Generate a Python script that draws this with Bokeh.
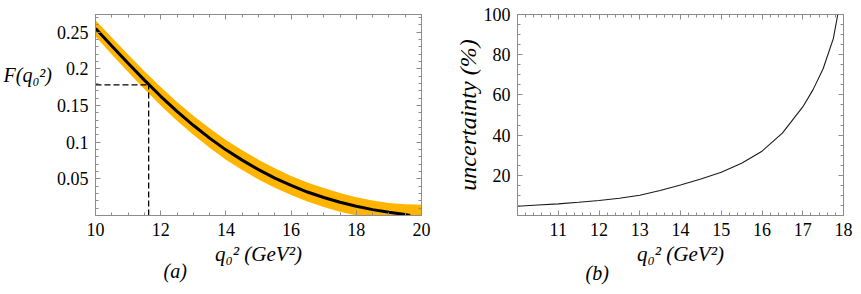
import numpy as np
from bokeh.plotting import figure
from bokeh.models import Range1d, LinearAxis, FixedTicker, Title, CustomJSTickFormatter
from bokeh.layouts import row
from bokeh.embed import file_html
from bokeh.resources import INLINE

# ---------------- data ----------------
# panel (a): form factor F(q0^2) with its uncertainty band
band_q2 = [10, 10.5, 11, 11.5, 12, 12.5, 13, 13.5, 14, 14.5, 15, 15.5, 16, 16.5,
           17, 17.5, 18, 18.5, 19, 19.5, 20]
band_upper = [0.266, 0.2425, 0.2195, 0.1967, 0.175, 0.1548, 0.136, 0.1188, 0.103, 0.089,
              0.076, 0.0643, 0.054, 0.045, 0.0375, 0.0308, 0.025, 0.0205, 0.017, 0.0152, 0.0145]
band_lower = [0.244, 0.2195, 0.1955, 0.1723, 0.150, 0.1292, 0.110, 0.0922, 0.076, 0.062,
              0.049, 0.0377, 0.028, 0.019, 0.0115, 0.0052, 0.0, 0.0, 0.0, 0.0, 0.0]
central_q2 = [10, 10.5, 11, 11.5, 12, 12.5, 13, 13.5, 14, 14.5, 15, 15.5, 16, 16.5,
              17, 17.5, 18, 18.5, 19, 19.5, 19.65]
central_F = [0.255, 0.231, 0.2075, 0.1845, 0.1625, 0.142, 0.123, 0.1055, 0.0895, 0.0755,
             0.0625, 0.051, 0.041, 0.032, 0.0245, 0.018, 0.0125, 0.008, 0.0043, 0.0013, 0.0]
ref_q2 = 11.63
ref_F = 0.178

# panel (b): relative uncertainty in %
unc_q2 = [10, 10.5, 11, 11.5, 12, 12.5, 13, 13.5, 14, 14.5, 15, 15.5, 16, 16.25, 16.5,
          17, 17.25, 17.5, 17.75, 17.86]
unc_pct = [4.6, 5.2, 5.8, 6.6, 7.5, 8.6, 10.1, 12.4, 15.2, 18.2, 21.5, 26.0, 32.0, 36.5, 41.0,
           54.0, 62.5, 73.0, 88.0, 100.0]

a_xticks = [10, 12, 14, 16, 18, 20]
a_yticks = [0.05, 0.1, 0.15, 0.2, 0.25]
b_xticks = [11, 12, 13, 14, 15, 16, 17, 18]
b_yticks = [20, 40, 60, 80, 100]

# ---------------- styling ----------------
SERIF = "'Liberation Serif', 'Times New Roman', serif"
FRAME = "#8c8c8c"
ORANGE = "#FFB400"
TICK_SIZE = "18px"
LABEL_SIZE = "21px"
H = 292


def style_axis(ax, ticks, minor, labels=True):
    ax.ticker = FixedTicker(ticks=list(ticks), minor_ticks=list(minor))
    ax.axis_line_color = FRAME
    ax.major_tick_line_color = FRAME
    ax.minor_tick_line_color = FRAME
    ax.major_tick_in = 5
    ax.major_tick_out = 0
    ax.minor_tick_in = 3
    ax.minor_tick_out = 0
    ax.major_label_text_font = SERIF
    ax.major_label_text_color = "black"
    ax.axis_label_text_font = SERIF
    ax.axis_label_text_font_style = "italic"
    ax.axis_label_text_font_size = LABEL_SIZE
    ax.axis_label_text_color = "black"
    if labels:
        ax.major_label_text_font_size = TICK_SIZE
        ax.major_label_standoff = 7
        ax.major_label_overrides = {t: f"{t:g}" for t in ticks}
    else:
        ax.formatter = CustomJSTickFormatter(code="return ''")
        ax.major_label_text_font_size = "0px"
        ax.major_label_standoff = 0


def make_fig(width, xr, yr, bl, br):
    p = figure(width=width, height=H, x_range=Range1d(*xr), y_range=Range1d(*yr),
               output_backend="svg", toolbar_location=None,
               min_border_left=bl, min_border_right=br, min_border_top=14,
               min_border_bottom=H - 215)
    p.grid.visible = False
    p.outline_line_color = FRAME
    p.background_fill_color = "white"
    p.border_fill_color = "white"
    return p


def panel_tag(p, text, offset, standoff):
    p.add_layout(Title(text=text, align="left", offset=offset, standoff=standoff,
                       text_font=SERIF, text_font_style="italic", text_font_size="20px",
                       text_color="black"), "below")


# ---------------- panel (a) ----------------
p1 = make_fig(438, (10, 20), (0, 0.274), 95, 17)
p1.varea(x=band_q2, y1=band_lower, y2=band_upper, color=ORANGE)
p1.line(central_q2, central_F, line_color="black", line_width=3)
p1.line([10, ref_q2], [ref_F, ref_F], line_color="black", line_width=1.3, line_dash="6 3")
p1.line([ref_q2, ref_q2], [0, ref_F], line_color="black", line_width=1.3, line_dash="6 3")

style_axis(p1.xaxis[0], a_xticks, np.arange(10, 20.01, 0.5))
style_axis(p1.yaxis[0], a_yticks, np.arange(0, 0.2741, 0.01))
p1.xaxis[0].axis_label = "q₀² (GeV²)"
p1.xaxis[0].axis_label_standoff = 3
p1.yaxis[0].axis_label = "F(q₀²)\n\n\n"
p1.yaxis[0].axis_label_orientation = "horizontal"
p1.yaxis[0].axis_label_text_font_size = "20px"
p1.yaxis[0].axis_label_standoff = 2
top1 = LinearAxis()
right1 = LinearAxis()
style_axis(top1, a_xticks, np.arange(10, 20.01, 0.5), labels=False)
style_axis(right1, a_yticks, np.arange(0, 0.2741, 0.01), labels=False)
p1.add_layout(top1, "above")
p1.add_layout(right1, "right")
panel_tag(p1, "(a)", 68, -21)

# ---------------- panel (b) ----------------
p2 = make_fig(421, (10, 18), (0, 100), 79, 16)
p2.line(unc_q2, unc_pct, line_color="#1a1a1a", line_width=1.1)

style_axis(p2.xaxis[0], b_xticks, np.arange(10, 18.01, 0.2))
style_axis(p2.yaxis[0], b_yticks, np.arange(0, 100.1, 5))
p2.xaxis[0].axis_label = "q₀² (GeV²)"
p2.xaxis[0].axis_label_standoff = 3
p2.yaxis[0].axis_label = "uncertainty (%)"
p2.yaxis[0].axis_label_text_font_size = "24px"
p2.yaxis[0].axis_label_standoff = 0
top2 = LinearAxis()
right2 = LinearAxis()
style_axis(top2, b_xticks, np.arange(10, 18.01, 0.2), labels=False)
style_axis(right2, b_yticks, np.arange(0, 100.1, 5), labels=False)
p2.add_layout(top2, "above")
p2.add_layout(right2, "right")
panel_tag(p2, "(b)", 68, -17)

layout = row(p1, p2)
open("out.html", "w").write(file_html(layout, INLINE))
